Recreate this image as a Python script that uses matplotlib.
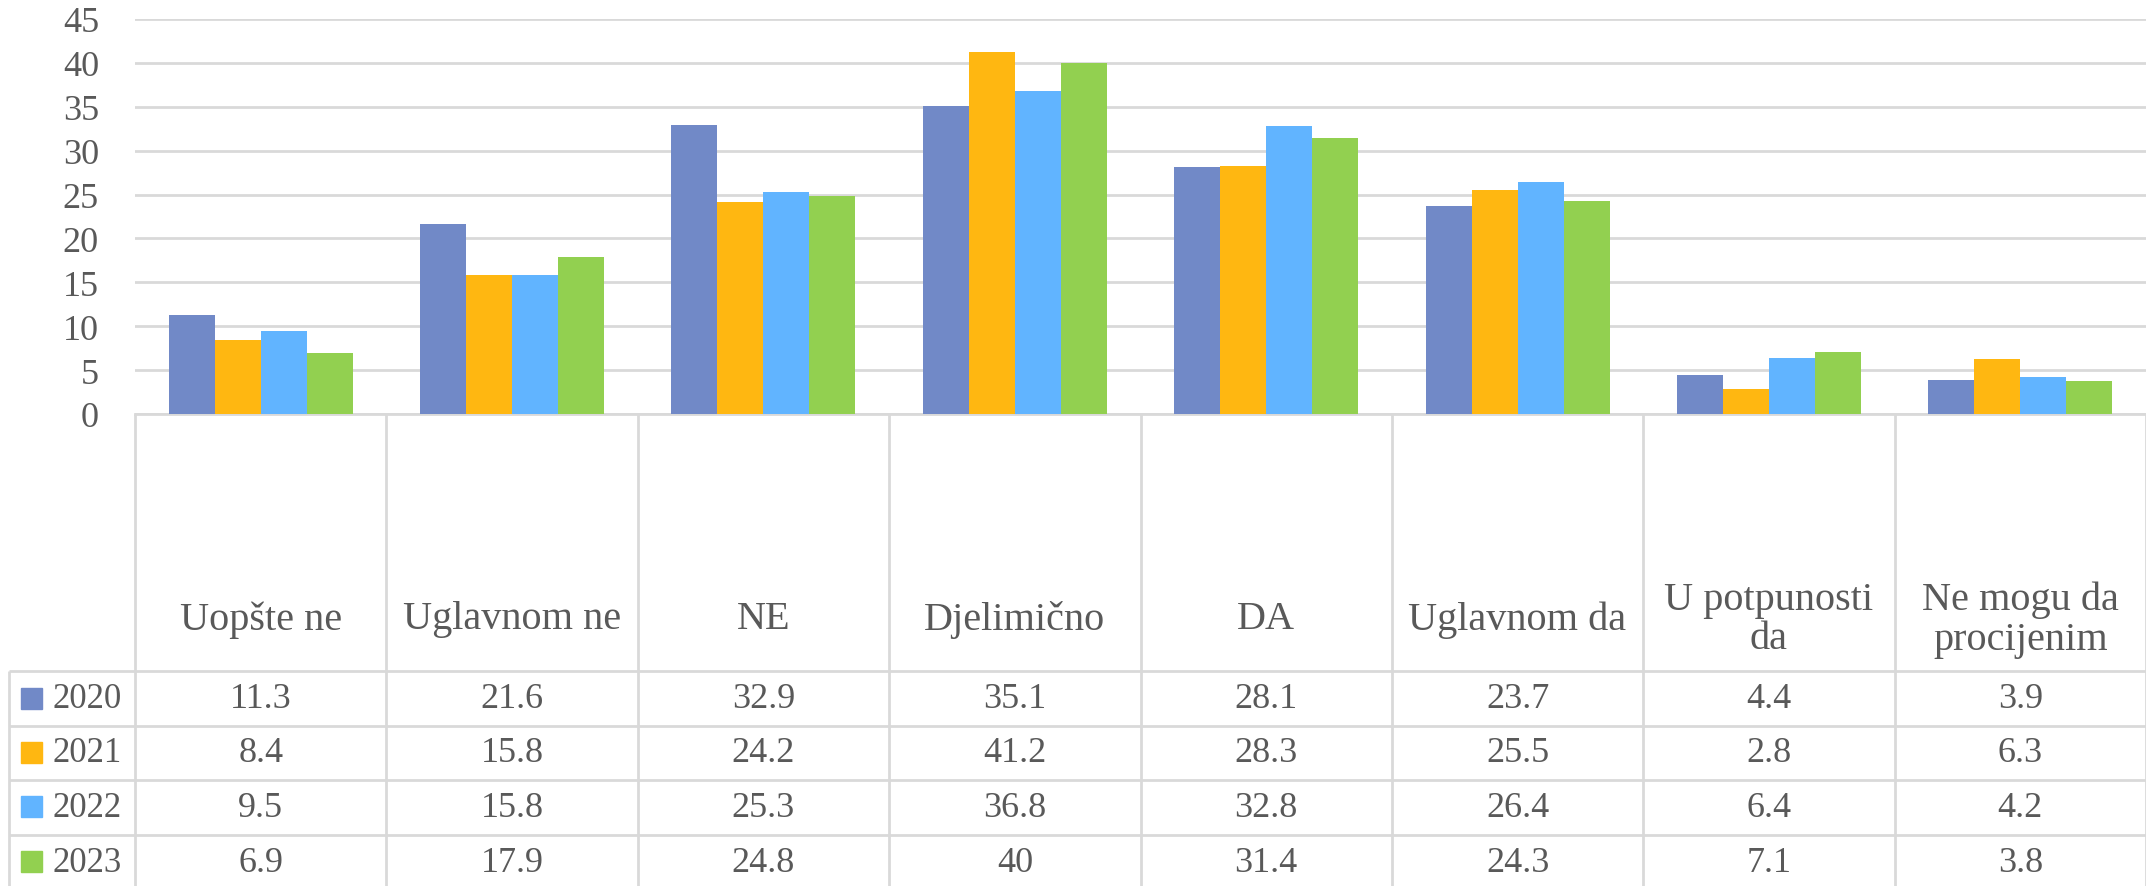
import matplotlib
matplotlib.use("Agg")
import matplotlib.pyplot as plt
from matplotlib.patches import Rectangle

# data
categories = ["Uopšte ne", "Uglavnom ne", "NE", "Djelimično", "DA",
              "Uglavnom da", "U potpunosti\nda", "Ne mogu da\nprocijenim"]
years = ["2020", "2021", "2022", "2023"]
v2020 = [11.3, 21.6, 32.9, 35.1, 28.1, 23.7, 4.4, 3.9]
v2021 = [8.4, 15.8, 24.2, 41.2, 28.3, 25.5, 2.8, 6.3]
v2022 = [9.5, 15.8, 25.3, 36.8, 32.8, 26.4, 6.4, 4.2]
v2023 = [6.9, 17.9, 24.8, 40, 31.4, 24.3, 7.1, 3.8]
series = [v2020, v2021, v2022, v2023]
colors = ["#7189C7", "#FFB711", "#61B4FF", "#92D050"]

plt.rcParams["font.family"] = ["Liberation Serif", "DejaVu Serif"]
TXT = "#595959"
GRID = "#D9D9D9"

W, H = 2146, 887
fig = plt.figure(figsize=(W / 100, H / 100), dpi=100)

# chart area (pixel layout)
left, top, base = 135, 20, 415
ax = fig.add_axes([left / W, (H - base) / H, (W - left) / W, (base - top) / H])
n = len(categories)
bw = 0.183
for j, vals in enumerate(series):
    xs = [i + (j - 1.5) * bw for i in range(n)]
    ax.bar(xs, vals, width=bw, color=colors[j], zorder=3)

ax.set_xlim(-0.5, n - 0.5)
ax.set_ylim(0, 45)
ax.set_yticks(range(0, 50, 5))
ax.yaxis.grid(True, color=GRID, linewidth=2)
ax.set_axisbelow(True)
ax.set_xticks([])
ax.tick_params(axis="y", length=0, pad=26, labelsize=26, labelcolor=TXT)
for s in ["top", "right", "left"]:
    ax.spines[s].set_visible(False)
ax.spines["bottom"].set_color(GRID)
ax.spines["bottom"].set_linewidth(2)

# data table drawn underneath
tab = fig.add_axes([0, 0, 1, 1], zorder=-1)
tab.set_xlim(0, W)
tab.set_ylim(H, 0)
tab.axis("off")

colw = (W - left) / n
rows = [672, 727, 781, 836, 891]
lkw = dict(color=GRID, linewidth=2, solid_capstyle="butt")
for i in range(n + 1):
    tab.plot([left + i * colw] * 2, [base, H], **lkw)
tab.plot([9, 9], [rows[0], H], **lkw)
for y in rows[:-1]:
    tab.plot([9, W], [y, y], **lkw)

for i, cat in enumerate(categories):
    tab.text(left + (i + 0.5) * colw, 620, cat, ha="center", va="center",
             fontsize=29, color=TXT, linespacing=1.1)

for j, (yr, vals) in enumerate(zip(years, series)):
    yc = (rows[j] + rows[j + 1]) / 2
    tab.add_patch(Rectangle((21, yc - 11), 21, 21, color=colors[j]))
    tab.text(52, yc, yr, ha="left", va="center", fontsize=25, color=TXT)
    for i, v in enumerate(vals):
        tab.text(left + (i + 0.5) * colw, yc, f"{v:g}", ha="center",
                 va="center", fontsize=26, color=TXT)

fig.savefig("out.png", dpi=100)
